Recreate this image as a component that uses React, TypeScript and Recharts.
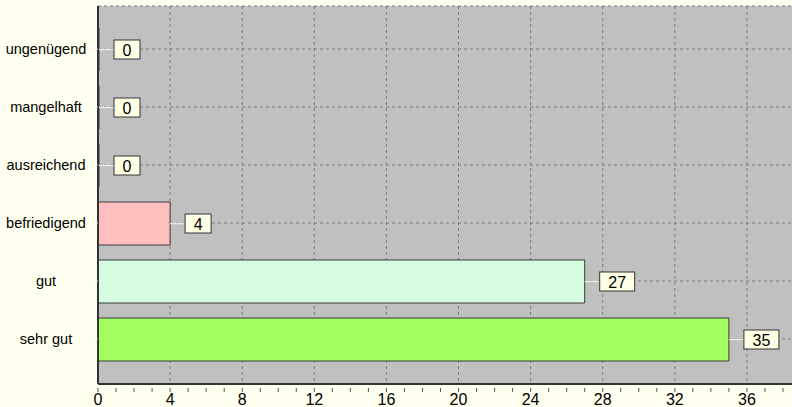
import React from 'react';
import { BarChart, Bar, XAxis, YAxis, CartesianGrid, Cell, LabelList } from 'recharts';

const grades = ['ungenügend', 'mangelhaft', 'ausreichend', 'befriedigend', 'gut', 'sehr gut'];
const counts = [0, 0, 0, 4, 27, 35];
const barColors = ['#FFBFBF', '#FFBFBF', '#FFBFBF', '#FFBFBF', '#D7FDE1', '#A3FD5F'];
const xTicks = Array.from({ length: 39 }, (_, i) => i);
const xMax = 38.5;
const majorStep = 4;

const data = grades.map((g, i) => ({ grade: g, count: counts[i] }));

const FONT = 'Arial, "Liberation Sans", sans-serif';

const GradeTick = (props: any) => {
  const { x, y, payload } = props;
  return (
    <text x={x - 47} y={y} dy={5} textAnchor="middle" fontSize={14.5} fontFamily={FONT} fill="#000">
      {payload.value}
    </text>
  );
};

const CountTick = (props: any) => {
  const { x, y, payload } = props;
  const major = payload.value % majorStep === 0;
  return (
    <g>
      <line x1={x} x2={x} y1={y - 4} y2={y} stroke="#555" strokeWidth={1} />
      {major && (
        <text x={x} y={y} dy={13} textAnchor="middle" fontSize={16} fontFamily={FONT} fill="#000">
          {payload.value}
        </text>
      )}
    </g>
  );
};

const ValueBox = (props: any) => {
  const { x, y, width, height, value } = props;
  const end = x + width;
  const cy = y + height / 2;
  const boxW = String(value).length > 1 ? 35 : 26;
  return (
    <g>
      <line x1={end} x2={end + 15} y1={cy} y2={cy} stroke="#E8E8E8" strokeWidth={1.5} />
      <rect x={end + 15} y={cy - 9.5} width={boxW} height={19} fill="#FFFFE6" stroke="#333" strokeWidth={1} />
      <text x={end + 15 + boxW / 2} y={cy} dy={6} textAnchor="middle" fontSize={16} fontFamily={FONT} fill="#000">
        {value}
      </text>
    </g>
  );
};

// vertical grid only at the labelled ticks (every 4)
const majorGrid = ({ offset }: any) =>
  xTicks
    .filter((t) => t % majorStep === 0 && t > 0)
    .map((t) => offset.left + (t / xMax) * offset.width);

export default function App() {
  return (
    <div style={{ position: 'fixed', left: 0, top: 0, width: 792, height: 407, background: '#FFFFEF' }}>
      <BarChart
        width={792}
        height={407}
        data={data}
        layout="vertical"
        margin={{ top: 6, right: 0, bottom: 0, left: 0 }}
      >
        <CartesianGrid
          fill="#C0C0C0"
          fillOpacity={1}
          stroke="#7A7A7A"
          strokeDasharray="3 3"
          verticalCoordinatesGenerator={majorGrid}
        />
        <XAxis
          type="number"
          domain={[0, xMax]}
          ticks={xTicks}
          interval={0}
          height={23}
          tick={<CountTick />}
          tickLine={false}
          axisLine={{ stroke: '#333', strokeWidth: 2 }}
        />
        <XAxis
          xAxisId="top"
          orientation="top"
          type="number"
          domain={[0, xMax]}
          height={0}
          tick={false}
          tickLine={false}
          axisLine={{ stroke: '#7F7F7F', strokeWidth: 2 }}
        />
        <YAxis
          type="category"
          dataKey="grade"
          width={98}
          padding={{ top: 14, bottom: 16 }}
          tick={<GradeTick />}
          tickSize={3}
          tickMargin={2}
          tickLine={{ stroke: '#E0E0E0' }}
          axisLine={{ stroke: '#333', strokeWidth: 2 }}
        />
        <Bar dataKey="count" barSize={43} minPointSize={1} stroke="#3A3A3A" strokeWidth={1} isAnimationActive={false}>
          {data.map((d, i) => (
            <Cell key={d.grade} fill={barColors[i]} />
          ))}
          <LabelList dataKey="count" content={<ValueBox />} />
        </Bar>
      </BarChart>
    </div>
  );
}
